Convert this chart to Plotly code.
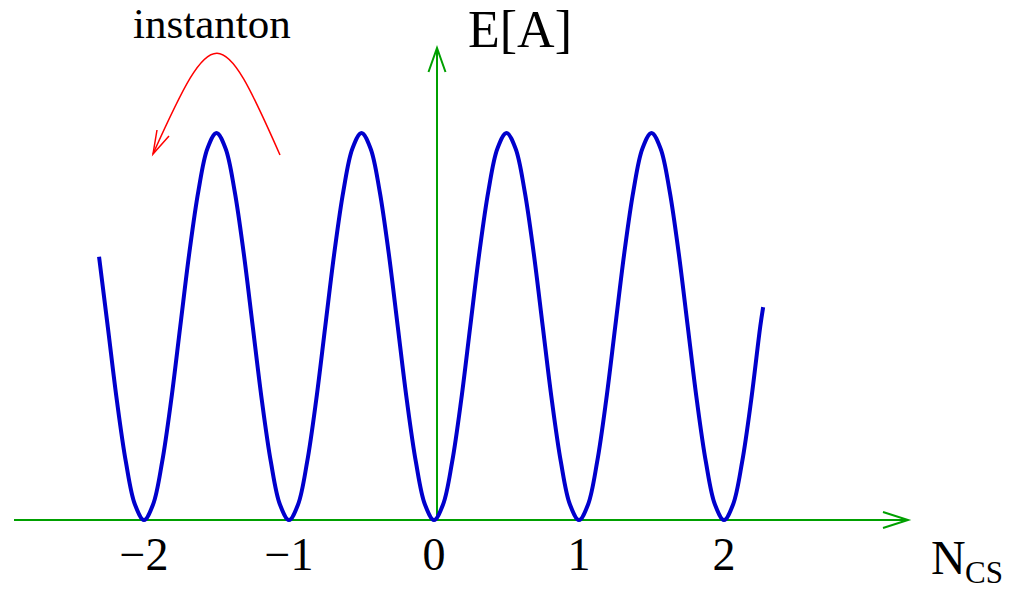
import plotly.graph_objects as go

# ---- data ----
n_cs = [-2.31, -2.25, -2.1875, -2.125, -2.0625,
        -2.0, -1.9375, -1.875, -1.8125, -1.75, -1.6875, -1.625, -1.5625,
        -1.5, -1.4375, -1.375, -1.3125, -1.25, -1.1875, -1.125, -1.0625,
        -1.0, -0.9375, -0.875, -0.8125, -0.75, -0.6875, -0.625, -0.5625,
        -0.5, -0.4375, -0.375, -0.3125, -0.25, -0.1875, -0.125, -0.0625,
        0.0, 0.0625, 0.125, 0.1875, 0.25, 0.3125, 0.375, 0.4375,
        0.5, 0.5625, 0.625, 0.6875, 0.75, 0.8125, 0.875, 0.9375,
        1.0, 1.0625, 1.125, 1.1875, 1.25, 1.3125, 1.375, 1.4375,
        1.5, 1.5625, 1.625, 1.6875, 1.75, 1.8125, 1.875, 1.9375,
        2.0, 2.0625, 2.125, 2.1875, 2.25, 2.27]
energy = [0.68, 0.5, 0.31, 0.15, 0.04,
          0.0, 0.04, 0.15, 0.31, 0.5, 0.69, 0.85, 0.96,
          1.0, 0.96, 0.85, 0.69, 0.5, 0.31, 0.15, 0.04,
          0.0, 0.04, 0.15, 0.31, 0.5, 0.69, 0.85, 0.96,
          1.0, 0.96, 0.85, 0.69, 0.5, 0.31, 0.15, 0.04,
          0.0, 0.04, 0.15, 0.31, 0.5, 0.69, 0.85, 0.96,
          1.0, 0.96, 0.85, 0.69, 0.5, 0.31, 0.15, 0.04,
          0.0, 0.04, 0.15, 0.31, 0.5, 0.69, 0.85, 0.96,
          1.0, 0.96, 0.85, 0.69, 0.5, 0.31, 0.15, 0.04,
          0.0, 0.04, 0.15, 0.31, 0.5, 0.55]
tick_vals = [-2, -1, 0, 1, 2]
tick_text = ["\u22122", "\u22121", "0", "1", "2"]

W, H = 1015, 592
MB = 60
PLOT_H = H - MB
X0PX, XSCALE = 434.0, 145.0      # pixel of N=0, pixels per unit
Y0PX, YSCALE = 520.0, 387.0      # pixel of E=0, pixels per unit


def px2x(px):
    return (px - X0PX) / XSCALE


def py2y(py):
    return (Y0PX - py) / YSCALE


def px2paper(px):
    return px / W


def py2paper(py):
    return (PLOT_H - py) / PLOT_H


GREEN = "#00a000"
RED = "#ff0000"
BLUE = "#0000cc"
SERIF = "Liberation Serif, Times New Roman, serif"

fig = go.Figure()
fig.add_trace(go.Scatter(x=n_cs, y=energy, mode="lines",
                         line=dict(color=BLUE, width=4, shape="spline", smoothing=1.0),
                         hoverinfo="skip", showlegend=False))


def path(points):
    return "M " + " L ".join(f"{px2x(a):.5f},{py2y(b):.5f}" for a, b in points)


shapes = []
# x axis with open arrow head
shapes.append(dict(type="line", xref="x", yref="y", x0=px2x(14), x1=px2x(907), y0=0, y1=0,
                   line=dict(color=GREEN, width=2), layer="below"))
shapes.append(dict(type="path", xref="x", yref="y", path=path([(883, 512), (908, 520), (883, 528)]),
                   line=dict(color=GREEN, width=2), layer="below"))
# y axis with open arrow head
shapes.append(dict(type="line", xref="x", yref="y", x0=px2x(437), x1=px2x(437), y0=0, y1=py2y(49),
                   line=dict(color=GREEN, width=2), layer="below"))
shapes.append(dict(type="path", xref="x", yref="y", path=path([(428.5, 72), (437, 48), (445.5, 72)]),
                   line=dict(color=GREEN, width=2), layer="below"))
# instanton arc
p0, p1, p2, p3 = (280, 155), (220.6, 20), (213.75, 19), (153, 154)
arc = (f"M {px2x(p0[0]):.5f},{py2y(p0[1]):.5f} C {px2x(p1[0]):.5f},{py2y(p1[1]):.5f} "
       f"{px2x(p2[0]):.5f},{py2y(p2[1]):.5f} {px2x(p3[0]):.5f},{py2y(p3[1]):.5f}")
shapes.append(dict(type="path", xref="x", yref="y", path=arc, line=dict(color=RED, width=1.5)))
shapes.append(dict(type="path", xref="x", yref="y", path=path([(169, 136), (153, 154), (157, 130)]),
                   line=dict(color=RED, width=1.5)))

annotations = [
    dict(text="instanton", x=px2paper(211.5), y=py2paper(23.5), xref="paper", yref="paper",
         xanchor="center", yanchor="middle", showarrow=False,
         font=dict(family=SERIF, size=43, color="black")),
    dict(text="E[A]", x=px2paper(520), y=py2paper(29.5), xref="paper", yref="paper",
         xanchor="center", yanchor="middle", showarrow=False,
         font=dict(family=SERIF, size=52, color="black")),
    dict(text="N", x=px2paper(929), y=py2paper(557), xref="paper", yref="paper",
         xanchor="left", yanchor="middle", showarrow=False,
         font=dict(family=SERIF, size=48, color="black")),
    dict(text="CS", x=px2paper(963), y=py2paper(591.5), xref="paper", yref="paper",
         xanchor="left", yanchor="bottom", showarrow=False,
         font=dict(family=SERIF, size=31, color="black")),
]

fig.update_layout(
    width=W, height=H,
    margin=dict(l=0, r=0, t=0, b=MB, pad=0, autoexpand=False),
    paper_bgcolor="white", plot_bgcolor="white",
    showlegend=False,
    shapes=shapes, annotations=annotations,
    xaxis=dict(range=[px2x(0), px2x(W)], showgrid=False, zeroline=False, showline=False,
               automargin=False,
               tickmode="array", tickvals=tick_vals, ticktext=tick_text,
               ticks="", ticklabelstandoff=-9,
               tickfont=dict(family=SERIF, size=46, color="black"), fixedrange=True),
    yaxis=dict(range=[py2y(PLOT_H), py2y(0)], visible=False, fixedrange=True, automargin=False),
)

fig.write_html("out.html")
